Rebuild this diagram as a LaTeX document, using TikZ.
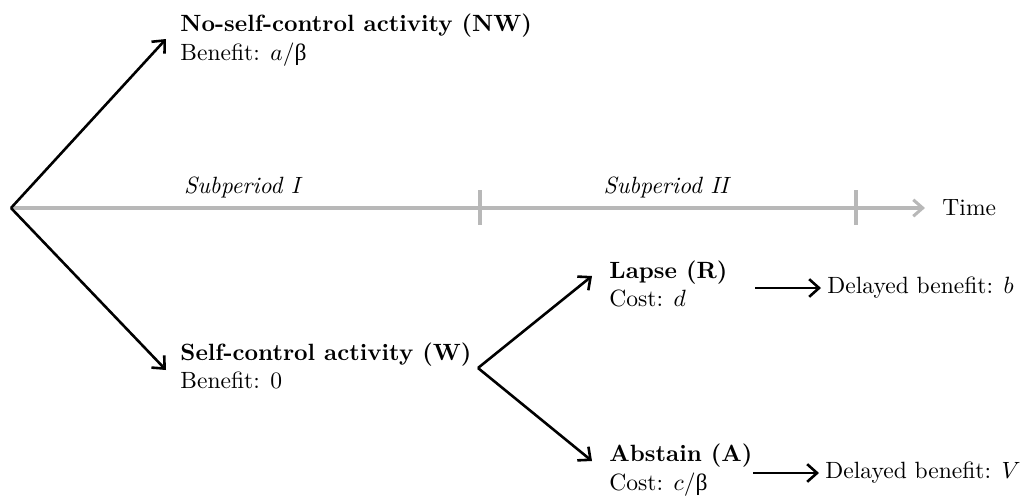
\documentclass[tikz,border=0pt]{standalone}
\usepackage{fontspec}
\newfontfamily\grk{Liberation Serif}
\usetikzlibrary{arrows.meta}
\tikzset{
  arr/.style={-{Straight Barb[length=4.2pt,width=7.5pt]}, line width=1.1pt, black},
  axis/.style={line width=1.3pt, black!28},
  txt/.style={align=left, anchor=west, inner sep=0pt},
  lbl/.style={anchor=base, inner sep=0pt, font=\itshape}
}
\begin{document}
\begin{tikzpicture}[x=0.425pt, y=-0.425pt]
\useasboundingbox (0,0) rectangle (1030,500);
% timeline
\coordinate (O) at (11,208);
\node[txt] (T) at (942,208) {Time};
\draw[axis, -{Straight Barb[length=4pt,width=7pt]}] (O) -- ([shift={(-17,0)}]T.west);
\draw[axis] (480,190) -- (480,225);
\draw[axis] (856,190) -- (856,225);
\node[lbl] (S1) at (242,193) {Subperiod I};
\node[lbl] (S2) at (666,193) {Subperiod II};
% first choice
\node[txt] (NW) at (180,40) {\textbf{No-self-control activity (NW)}\\Benefit: $a/${\grk β}};
\node[txt] (W) at (180,366) {\textbf{Self-control activity (W)}\\Benefit: 0};
\draw[arr] (O) -- ([shift={(-14,-1)}]NW.west);
\draw[arr] (O) -- ([shift={(-14,4)}]W.west);
% second choice
\coordinate (B) at (478,368);
\node[txt] (L) at (609,284) {\textbf{Lapse (R)}\\Cost: $d$};
\node[txt] (A) at (609,470) {\textbf{Abstain (A)}\\Cost: $c/${\grk β}};
\draw[arr] (B) -- ([shift={(-17,-8)}]L.west);
\draw[arr] (B) -- ([shift={(-17,-9)}]A.west);
% delayed benefits
\node[txt] (D1) at (827,288) {Delayed benefit: $b$};
\node[txt] (D2) at (825,473) {Delayed benefit: $V$};
\coordinate (s1) at (755,288);
\coordinate (s2) at (753,473);
\draw[arr] (s1) -- ([shift={(-6,0)}]D1.west);
\draw[arr] (s2) -- ([shift={(-6,0)}]D2.west);
\end{tikzpicture}
\end{document}
